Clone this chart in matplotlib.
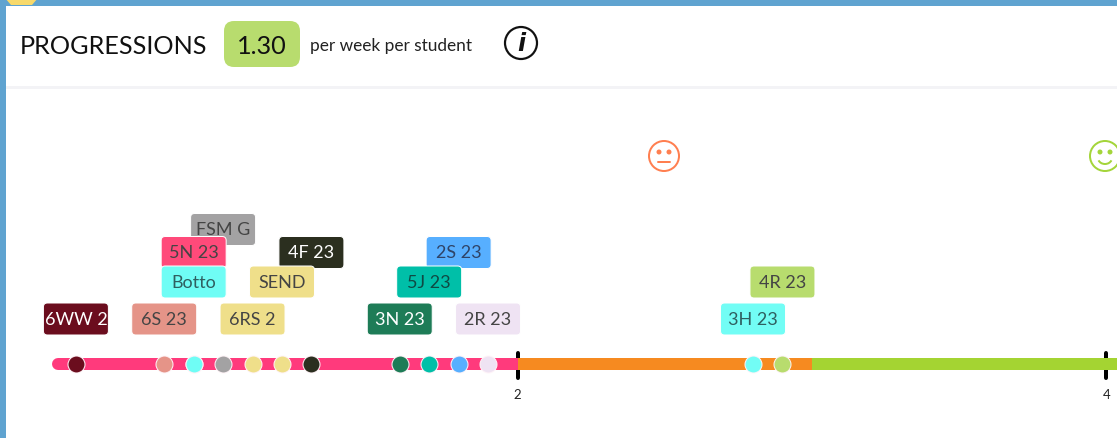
"""Progressions number line: class labels placed on a weeks-per-student scale."""
import matplotlib
matplotlib.use("Agg")
import matplotlib.pyplot as plt
from matplotlib.patches import Circle, Arc, FancyBboxPatch, Polygon, Rectangle

plt.rcParams["font.family"] = ["Lato", "DejaVu Sans"]

W, H = 1117, 439
PX_PER_UNIT = 294.4
PT = 0.72  # one pixel in points at dpi 100

# classes on the line, in drawing order (back to front)
CLASSES = ["6WW 2", "6S 23", "FSM G", "5N 23", "Botto", "6RS 2", "4F 23", "SEND",
           "3N 23", "2S 23", "5J 23", "2R 23", "3H 23", "4R 23"]
VALUES = [0.5, 0.8, 1.0, 0.9, 0.9, 1.1, 1.3, 1.2, 1.6, 1.8, 1.7, 1.9, 2.8, 2.9]
LABEL_Y = [319, 319, 229.5, 252.5, 282, 319, 252.5, 282, 319, 252.5, 282, 319, 319, 282]
COLORS = ["#6b0d1e", "#e59488", "#a3a2a3", "#ff4a7a", "#6ffdf5", "#efdf8a", "#2b2f1f",
          "#efdf8a", "#1e7c57", "#57afff", "#00bfa8", "#efe3f3", "#72fdf5", "#b8dc6e"]
TEXT_COLORS = ["#ffffff", "#444444", "#444444", "#444444", "#2f5f60", "#444444", "#ffffff",
               "#444444", "#ffffff", "#2f4468", "#0f4a44", "#444444", "#2f5f60", "#444444"]

SEG_START = [0.44, 2.0, 3.0]
SEG_END = [2.0, 3.0, 4.2]
SEG_COLORS = ["#ff3a7c", "#f68a20", "#a4d432"]
TICKS = [2, 4]

PILL_GREEN = "#b8dc6e"
FRAME_BLUE = "#5fa3d0"
BAR_Y, DOT_R = 364, 8.5


def header(hd):
    # page frame and the little yellow corner
    hd.add_patch(Rectangle((0, -2), W, 8, fc=FRAME_BLUE, lw=0))
    hd.add_patch(Rectangle((0, -2), 6, H + 4, fc=FRAME_BLUE, lw=0))
    hd.add_patch(Polygon([(5, -2), (38, -2), (32, 5), (11, 5)], fc="#f7d96b", lw=0))
    hd.add_patch(Rectangle((6, 86), W, 3, fc="#f3f3f6", lw=0))

    hd.text(20, 45, "PROGRESSIONS", fontsize=18.2, color="#111111", va="center")
    hd.add_patch(FancyBboxPatch((224, 21), 76, 46, boxstyle="round,pad=0,rounding_size=10",
                                fc=PILL_GREEN, ec="none"))
    hd.text(262, 45, "1.30", fontsize=18.2, color="#111111", ha="center", va="center")
    hd.text(310, 45, "per week per student", fontsize=12.4, color="#222222", va="center")
    hd.add_patch(Circle((521, 43), 16, fc="none", ec="#111111", lw=2.2 * PT))
    hd.text(521, 43, "i", fontsize=17, style="italic", weight="bold", family="DejaVu Sans",
            color="#111111", ha="center", va="center")


def smiley(hd, x, y, color, happy):
    hd.add_patch(Circle((x, y), 15, fc="none", ec=color, lw=2 * PT))
    for dx in (-5, 5):
        hd.add_patch(Circle((x + dx, y - 4), 2.5, fc=color, lw=0))
    if happy:
        hd.add_patch(Arc((x, y + 2), 14, 12, theta1=20, theta2=160, ec=color, lw=2 * PT))
    else:
        hd.plot([x - 6, x + 6], [y + 6, y + 6], color=color, lw=2 * PT, solid_capstyle="round")


def number_line(ax):
    for t in TICKS:
        ax.plot([t, t], [353, 378], color="#000000", lw=4 * PT, solid_capstyle="round", zorder=1)
        ax.text(t, 394, str(t), fontsize=9.5, color="#222222", ha="center", va="center")
    for i, (a, b, c) in enumerate(zip(SEG_START, SEG_END, SEG_COLORS)):
        ax.plot([a, b], [BAR_Y, BAR_Y], color=c, lw=12 * PT, zorder=2 + i,
                solid_capstyle="round" if i == 0 else "butt")

    w = 65 / PX_PER_UNIT
    for i, (name, v, y, c, tc) in enumerate(zip(CLASSES, VALUES, LABEL_Y, COLORS, TEXT_COLORS)):
        ax.scatter([v], [BAR_Y], s=(2 * DOT_R * PT) ** 2, color=c, edgecolors="#fff4f8",
                   linewidths=1 * PT, zorder=6)
        # x is in scale units and y in pixels, so the corner radius needs the aspect
        box = FancyBboxPatch((v - w / 2, y - 16), w, 32,
                             boxstyle=f"round,pad=0,rounding_size={4 / PX_PER_UNIT}",
                             mutation_aspect=PX_PER_UNIT, fc=c, ec="#ffffff", lw=1 * PT,
                             zorder=10 + i)
        ax.add_patch(box)
        ax.text(v, y, name, fontsize=13, color=tc, ha="center", va="center", zorder=10 + i)


def main():
    fig = plt.figure(figsize=(W / 100, H / 100), dpi=100, facecolor="white")

    # pixel-space axes for the page furniture
    hd = fig.add_axes([0, 0, 1, 1])
    hd.set_xlim(0, W)
    hd.set_ylim(H - 1, -1)
    hd.axis("off")
    header(hd)
    smiley(hd, 664, 156, "#ff7f50", False)
    smiley(hd, 1105, 156, "#a4d53a", True)

    # value scale: 2 sits at x=518px
    ax = fig.add_axes([0, 0, 1, 1])
    ax.set_xlim(2 - 517.5 / PX_PER_UNIT, 2 + (W - 517.5) / PX_PER_UNIT)
    ax.set_ylim(H - 1, -1)
    ax.axis("off")
    number_line(ax)

    fig.savefig("out.png", dpi=100)
    plt.close(fig)


if __name__ == "__main__":
    main()
